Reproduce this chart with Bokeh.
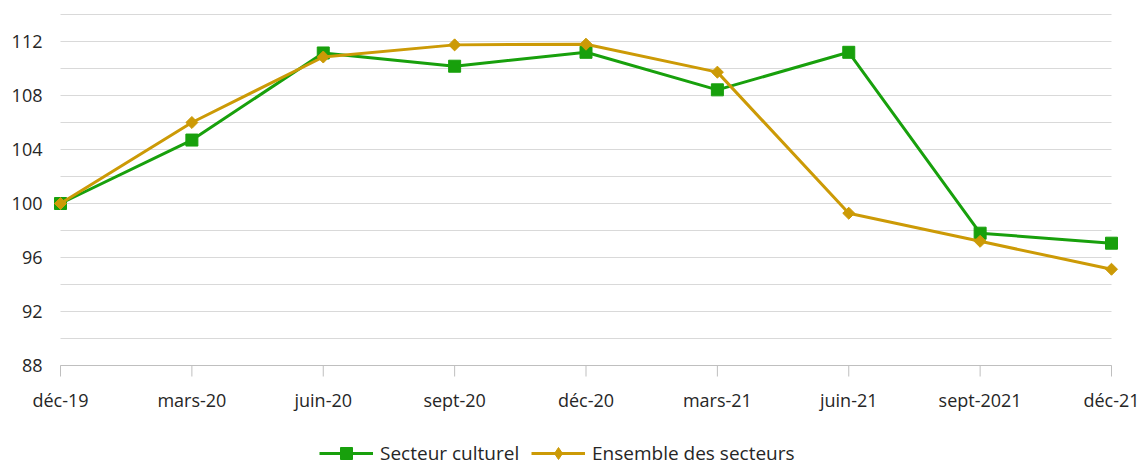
import numpy as np
from bokeh.plotting import figure
from bokeh.models import Range1d, Legend, LegendItem, ColumnDataSource
from bokeh.core.properties import value
from bokeh.embed import file_html
from bokeh.resources import INLINE

categories = ["déc-19", "mars-20", "juin-20", "sept-20", "déc-20", "mars-21", "juin-21", "sept-2021", "déc-21"]
secteur_culturel = [100.0, 104.7, 111.15, 110.17, 111.2, 108.42, 111.2, 97.8, 97.06]
ensemble_secteurs = [100.0, 106.0, 110.85, 111.75, 111.8, 109.73, 99.28, 97.2, 95.13]
y_labels = [88, 92, 96, 100, 104, 108, 112]
y_grid = [88, 90, 92, 94, 96, 98, 100, 102, 104, 106, 108, 110, 112, 114]
y_axis_base = 88

GREEN = "#18a00c"
GOLD = "#cc9a06"
FONT = "Open Sans"
TEXT = "#262626"

W, H = 1140, 467
n = len(categories)
xs = list(range(n))

# plot area inside the canvas: x 60..1111 px, y 14..365 px (114 .. 88)
left_px, right_px, top_px, bottom_px = 60, 1111, 14, 365
x_ppu = (right_px - left_px) / (n - 1)
y_ppu = (bottom_px - top_px) / (y_grid[-1] - y_axis_base)
x_start = 0 - left_px / x_ppu
x_end = (n - 1) + (W - right_px) / x_ppu
y_end = y_grid[-1] + top_px / y_ppu
y_start = y_grid[-1] - (H - top_px) / y_ppu

src = ColumnDataSource(dict(x=xs, c=secteur_culturel, e=ensemble_secteurs))
xlab_src = ColumnDataSource(dict(x=xs, y=[y_axis_base] * n, t=categories))
ylab_src = ColumnDataSource(dict(x=[0] * len(y_labels), y=y_labels, t=[str(v) for v in y_labels]))
grid_src = ColumnDataSource(dict(x0=[0] * len(y_grid), x1=[n - 1] * len(y_grid), y=y_grid))

p = figure(width=W, height=H, output_backend="svg", toolbar_location=None,
           x_range=Range1d(x_start, x_end), y_range=Range1d(y_start, y_end),
           x_axis_location=None, y_axis_location=None,
           min_border_left=0, min_border_right=0, min_border_top=0, min_border_bottom=0)
p.outline_line_color = None
p.background_fill_color = "white"
p.xgrid.grid_line_color = None
p.ygrid.grid_line_color = None

# horizontal gridlines
p.segment(x0="x0", x1="x1", y0="y", y1="y", source=grid_src, line_color="#d9d9d9", line_width=1)
# category axis line, ticks, labels
p.segment(x0=0, x1=n - 1, y0=y_axis_base, y1=y_axis_base, line_color="#bfbfbf", line_width=1)
p.ray(x="x", y="y", source=xlab_src, length=11, length_units="screen", angle=-np.pi / 2,
      line_color="#bfbfbf", line_width=1)
p.text(x="x", y="y", text="t", source=xlab_src, y_offset=34, text_align="center",
       text_baseline="middle", text_font=value(FONT), text_font_size="18px", text_color=TEXT)
# value axis labels
p.text(x="x", y="y", text="t", source=ylab_src, x_offset=-18, text_align="right",
       text_baseline="middle", text_font=value(FONT), text_font_size="18px", text_color=TEXT)

# series
l1 = p.line("x", "c", source=src, line_color=GREEN, line_width=3)
m1 = p.scatter("x", "c", source=src, marker="square", size=12, fill_color=GREEN, line_color=GREEN)
l2 = p.line("x", "e", source=src, line_color=GOLD, line_width=3)
m2 = p.scatter("x", "e", source=src, marker="square", angle=np.pi / 4, size=8.5,
               fill_color=GOLD, line_color=GOLD)
# legend-only marker for the gold series (diamond shape, nothing drawn in the plot)
m2_leg = p.scatter(x=[np.nan], y=[np.nan], marker="diamond", size=12, fill_color=GOLD, line_color=GOLD)

common = dict(orientation="horizontal", padding=0, margin=0, border_line_color=None,
              background_fill_alpha=0, label_text_font=FONT, label_text_font_size="19px",
              label_text_color=TEXT, glyph_width=54, glyph_height=30, label_standoff=7,
              spacing=0, label_height=21)

leg1 = Legend(items=[LegendItem(label="Secteur culturel", renderers=[l1, m1])],
              location=(319, -1), **common)
leg2 = Legend(items=[LegendItem(label="Ensemble des secteurs", renderers=[l2, m2_leg])],
              location=(531, -1), **common)
p.add_layout(leg1, "center")
p.add_layout(leg2, "center")

open("out.html", "w").write(file_html(p, INLINE))
